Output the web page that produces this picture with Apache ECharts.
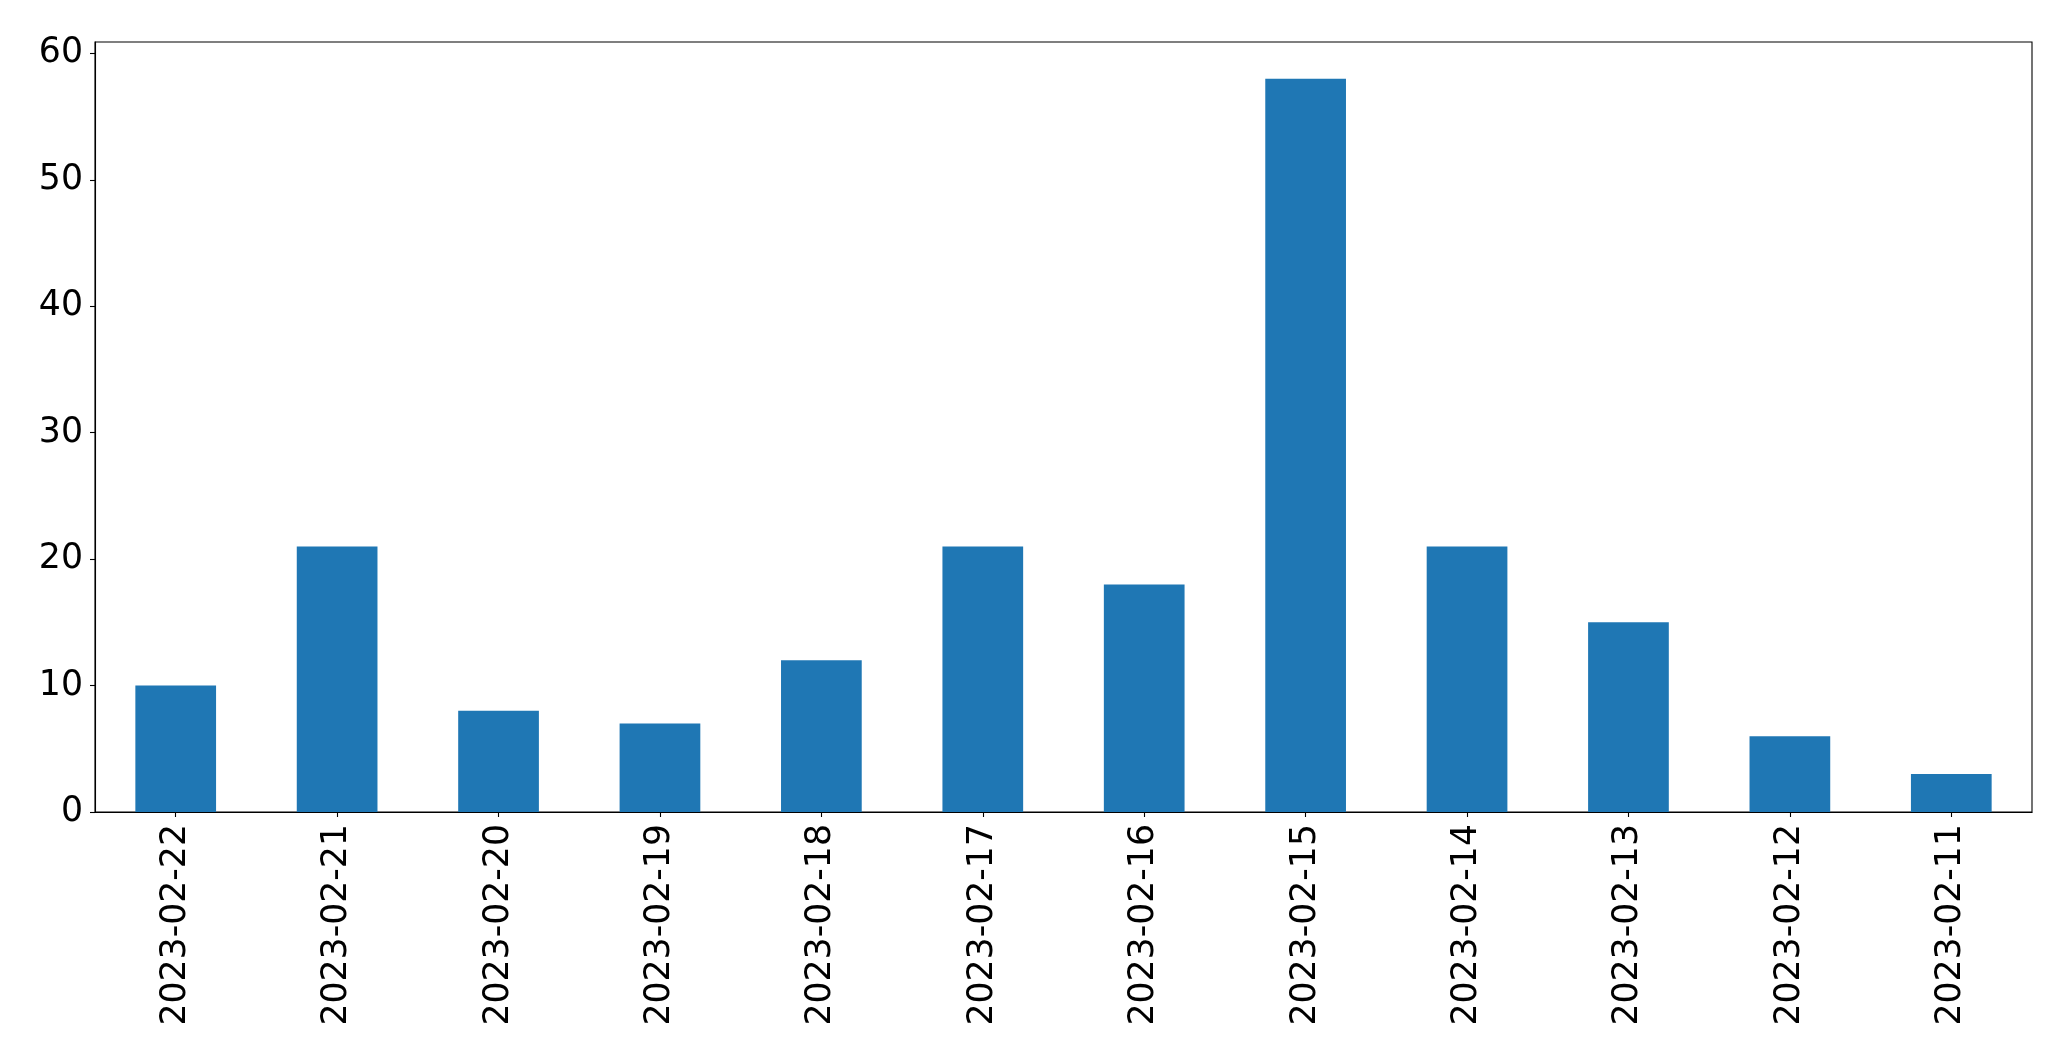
<!DOCTYPE html>
<html>
<head>
<meta charset="utf-8">
<script src="https://cdn.jsdelivr.net/npm/echarts@6/dist/echarts.min.js"></script>
<style>
  html, body { margin: 0; padding: 0; background: #fff; }
  #chart { width: 2071px; height: 1064px; }
</style>
</head>
<body>
<div id="chart"></div>
<script>
const categories = ['2023-02-22','2023-02-21','2023-02-20','2023-02-19','2023-02-18','2023-02-17','2023-02-16','2023-02-15','2023-02-14','2023-02-13','2023-02-12','2023-02-11'];
const values = [10, 21, 8, 7, 12, 21, 18, 58, 21, 15, 6, 3];
const yTicks = [0, 10, 20, 30, 40, 50, 60];

const chart = echarts.init(document.getElementById('chart'), null, { renderer: 'canvas' });
const font = 'DejaVu Sans';
chart.setOption({
  animation: false,
  backgroundColor: '#ffffff',
  grid: {
    left: 95, right: 39, top: 42, bottom: 252,
    show: true, borderColor: '#000', borderWidth: 1.1, backgroundColor: 'transparent'
  },
  xAxis: {
    type: 'category',
    data: categories,
    axisLine: { show: true, lineStyle: { color: '#000', width: 1.1 } },
    axisTick: { show: true, alignWithLabel: true, length: 5, lineStyle: { color: '#000', width: 1.1 } },
    axisLabel: { rotate: 90, margin: 12, color: '#000', fontSize: 34.7, fontFamily: font, interval: 0 },
    splitLine: { show: false }
  },
  yAxis: {
    type: 'value',
    min: 0, max: 60.9, interval: 10,
    axisLine: { show: true, lineStyle: { color: '#000', width: 1.1 } },
    axisTick: { show: true, length: 5, customValues: yTicks, lineStyle: { color: '#000', width: 1.1 } },
    axisLabel: { margin: 12, color: '#000', fontSize: 34.7, fontFamily: font, customValues: yTicks, padding: [9, 0, 0, 0] },
    splitLine: { show: false }
  },
  series: [{
    type: 'bar',
    data: values,
    barWidth: '50%',
    itemStyle: { color: '#1f77b4' }
  }]
});
</script>
</body>
</html>
